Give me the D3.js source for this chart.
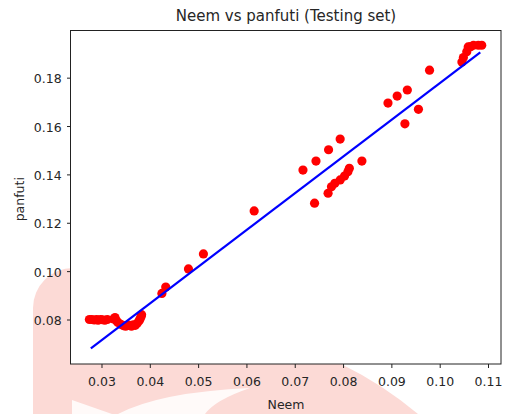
<!DOCTYPE html>
<html>
<head>
<meta charset="utf-8">
<script src="https://cdn.jsdelivr.net/npm/d3@7"></script>
<style>
  html, body { margin: 0; padding: 0; background: #fff; }
  svg { display: block; }
  text { font-family: "DejaVu Sans", sans-serif; fill: #262626; }
</style>
</head>
<body>
<svg id="chart" width="505" height="414"></svg>
<script>
// ---- data ----
const neem = [
  0.0275, 0.0280, 0.0285, 0.0290, 0.0293, 0.0298, 0.0302, 0.0307, 0.0312,
  0.0325, 0.0328, 0.0331, 0.0334, 0.0340, 0.0345, 0.0350, 0.0356, 0.0362,
  0.0366, 0.0370, 0.0374, 0.0378, 0.0380, 0.0382, 0.0383,
  0.0425, 0.0433, 0.0480, 0.0511, 0.0616,
  0.0717, 0.0741, 0.0744, 0.0769, 0.0770, 0.0776, 0.0783, 0.0794, 0.0794,
  0.0803, 0.0810, 0.0813, 0.0839,
  0.0893, 0.0912, 0.0928, 0.0933, 0.0956, 0.0979,
  0.1046, 0.1049, 0.1056, 0.1059, 0.1064, 0.1070, 0.1080, 0.1087
];
const panfuti = [
  0.0800, 0.0800, 0.0798, 0.0800, 0.0797, 0.0800, 0.0799, 0.0797, 0.0800,
  0.0802, 0.0808, 0.0795, 0.0788, 0.0780, 0.0775, 0.0772, 0.0777, 0.0772,
  0.0778, 0.0776, 0.0785, 0.0795, 0.0803, 0.0812, 0.0820,
  0.0908, 0.0934, 0.1009, 0.1071, 0.1249,
  0.1418, 0.1281, 0.1455, 0.1322, 0.1502, 0.1349, 0.1363, 0.1377, 0.1546,
  0.1393, 0.1411, 0.1425, 0.1455,
  0.1695, 0.1724, 0.1609, 0.1749, 0.1669, 0.1831,
  0.1865, 0.1883, 0.1907, 0.1927, 0.1928, 0.1934, 0.1934, 0.1934
];
// regression line end points
const lineX = [0.0278, 0.1084];
const lineY = [0.0681, 0.1905];

const xTicks = [0.03, 0.04, 0.05, 0.06, 0.07, 0.08, 0.09, 0.10, 0.11];
const yTicks = [0.08, 0.10, 0.12, 0.14, 0.16, 0.18];

const titleText = "Neem vs panfuti (Testing set)";
const xLabel = "Neem";
const yLabel = "panfuti";

// ---- layout ----
const svg = d3.select("#chart");
const L = 71, R = 501, T = 30.5, B = 364;

const x = d3.scaleLinear().domain([0.02369, 0.11269]).range([L, R]);
const y = d3.scaleLinear().domain([0.0616, 0.1995]).range([B, T]);

// watermark behind the figure
svg.append("path")
  .attr("d", "M33,414 V308 A40,40 0 0 1 73,268 H300 L343,365 Q382,384 418,414 Z")
  .attr("fill", "#fcdad6");
svg.append("path")
  .attr("d", "M72,400 L112,414 L72,414 Z")
  .attr("fill", "#fff").attr("opacity", 0.85);
svg.append("path")
  .attr("d", "M118,414 Q160,392 250,388 Q215,400 205,414 Z")
  .attr("fill", "#fff").attr("opacity", 0.85);

// axes background
svg.append("rect")
  .attr("x", L).attr("y", T).attr("width", R - L).attr("height", B - T)
  .attr("fill", "#fff");

// points
svg.append("g").selectAll("circle")
  .data(neem.map((v, i) => [v, panfuti[i]]))
  .join("circle")
  .attr("cx", d => x(d[0]))
  .attr("cy", d => y(d[1]))
  .attr("r", 4.6)
  .attr("fill", "#ff0000");

// regression line
svg.append("path")
  .datum(lineX.map((v, i) => [v, lineY[i]]))
  .attr("d", d3.line().x(d => x(d[0])).y(d => y(d[1])))
  .attr("fill", "none")
  .attr("stroke", "#0000ff")
  .attr("stroke-width", 2.2);

// axes
const xAxis = svg.append("g")
  .attr("transform", `translate(0,${B})`)
  .call(d3.axisBottom(x).tickValues(xTicks).tickFormat(d3.format(".2f"))
    .tickSize(4).tickPadding(9.5).tickSizeOuter(0));
const yAxis = svg.append("g")
  .attr("transform", `translate(${L},0)`)
  .call(d3.axisLeft(y).tickValues(yTicks).tickFormat(d3.format(".2f"))
    .tickSize(4).tickPadding(5.3).tickSizeOuter(0));

[xAxis, yAxis].forEach(g => {
  g.select(".domain").remove();
  g.selectAll(".tick line").attr("stroke", "#222").attr("stroke-width", 1);
  g.selectAll(".tick text")
    .attr("font-family", "DejaVu Sans, sans-serif")
    .attr("font-size", 12.5)
    .attr("fill", "#262626");
});
yAxis.selectAll(".tick text").attr("dy", "0.4em");

// frame
svg.append("rect")
  .attr("x", L - 0.5).attr("y", T).attr("width", R - L + 0.5).attr("height", B - T)
  .attr("fill", "none").attr("stroke", "#222").attr("stroke-width", 1);

// title and labels
svg.append("text")
  .attr("x", (L + R) / 2).attr("y", 20.5)
  .attr("text-anchor", "middle").attr("font-size", 15)
  .text(titleText);
svg.append("text")
  .attr("x", (L + R) / 2).attr("y", 408.5)
  .attr("text-anchor", "middle").attr("font-size", 12.5)
  .text(xLabel);
svg.append("text")
  .attr("transform", `translate(24,${(T + B) / 2 + 2}) rotate(-90)`)
  .attr("text-anchor", "middle").attr("font-size", 12.5)
  .text(yLabel);
</script>
</body>
</html>
